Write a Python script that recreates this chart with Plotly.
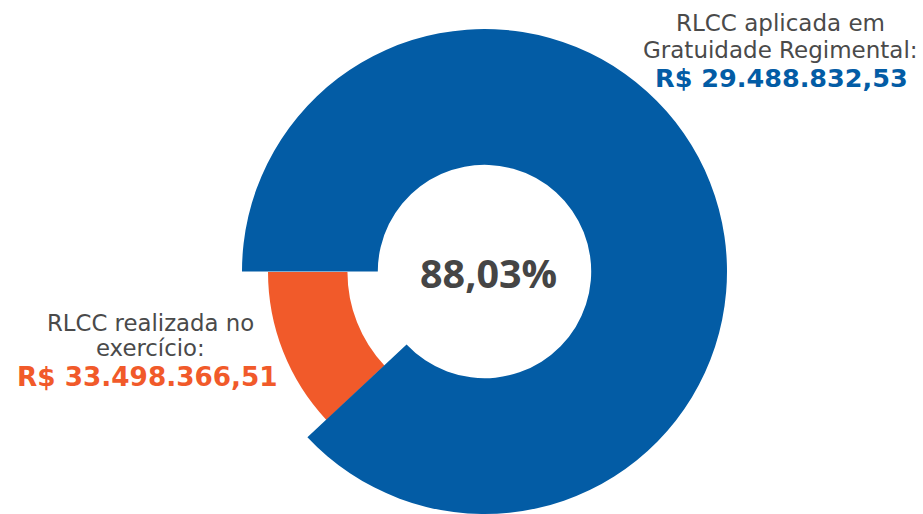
import plotly.graph_objects as go

# ---- data ----
labels = ["RLCC aplicada em Gratuidade Regimental", "RLCC realizada no exercício"]
aplicada = 29488832.53
realizada = 33498366.51
percent_text = "88,03%"
label_aplicada = ["RLCC aplicada em", "Gratuidade Regimental:"]
value_aplicada = "R$ 29.488.832,53"
label_realizada = ["RLCC realizada no", "exercício:"]
value_realizada = "R$ 33.498.366,51"

slice_values = [aplicada, realizada - aplicada]

BLUE = "#035CA5"
ORANGE = "#F15A2A"
GRAY = "#4A4A4A"
DARK = "#454545"
CLEAR = "rgba(0,0,0,0)"

W, H = 923, 514
SIDE_FONT = "DejaVu Sans"
CENTER_FONT = "Open Sans"


def px_x(x):
    return x / W


def px_y(y):
    return 1 - y / H


fig = go.Figure()

# orange (smaller) ring
fig.add_trace(go.Pie(
    labels=labels, values=slice_values, sort=False,
    direction="clockwise", rotation=270,
    hole=0.633,
    marker=dict(colors=[CLEAR, ORANGE], line=dict(width=0)),
    textinfo="none", hoverinfo="skip", showlegend=False,
    domain=dict(x=[px_x(268), px_x(701)], y=[px_y(488.5), px_y(55.5)]),
))

# blue (larger) ring
fig.add_trace(go.Pie(
    labels=labels, values=slice_values, sort=False,
    direction="clockwise", rotation=270,
    hole=0.44,
    marker=dict(colors=[BLUE, CLEAR], line=dict(width=0)),
    textinfo="none", hoverinfo="skip", showlegend=False,
    domain=dict(x=[px_x(241.5), px_x(727.5)], y=[0, px_y(29)]),
))

ann = []


def add_text(text, x, y, size, color, family, bold=False):
    ann.append(dict(
        text=f"<b>{text}</b>" if bold else text,
        x=px_x(x), y=px_y(y), xref="paper", yref="paper",
        xanchor="center", yanchor="middle", showarrow=False,
        font=dict(family=family, size=size, color=color),
    ))


add_text(label_aplicada[0], 780, 23.5, 23, GRAY, SIDE_FONT)
add_text(label_aplicada[1], 780, 50, 23, GRAY, SIDE_FONT)
add_text(value_aplicada, 781, 77.5, 25.5, BLUE, SIDE_FONT, bold=True)

add_text(label_realizada[0], 150, 323, 22.8, GRAY, SIDE_FONT)
add_text(label_realizada[1], 150, 348, 22.8, GRAY, SIDE_FONT)
add_text(value_realizada, 147, 377, 26.3, ORANGE, SIDE_FONT, bold=True)

add_text(percent_text, 488, 273, 39.5, DARK, CENTER_FONT, bold=True)

fig.update_layout(
    width=W, height=H,
    margin=dict(l=0, r=0, t=0, b=0),
    paper_bgcolor="white", plot_bgcolor="white",
    annotations=ann,
)

fig.write_html(
    "out.html",
    config={"displayModeBar": False},
    post_script="document.body.style.margin='0';document.body.style.overflow='hidden';",
)
